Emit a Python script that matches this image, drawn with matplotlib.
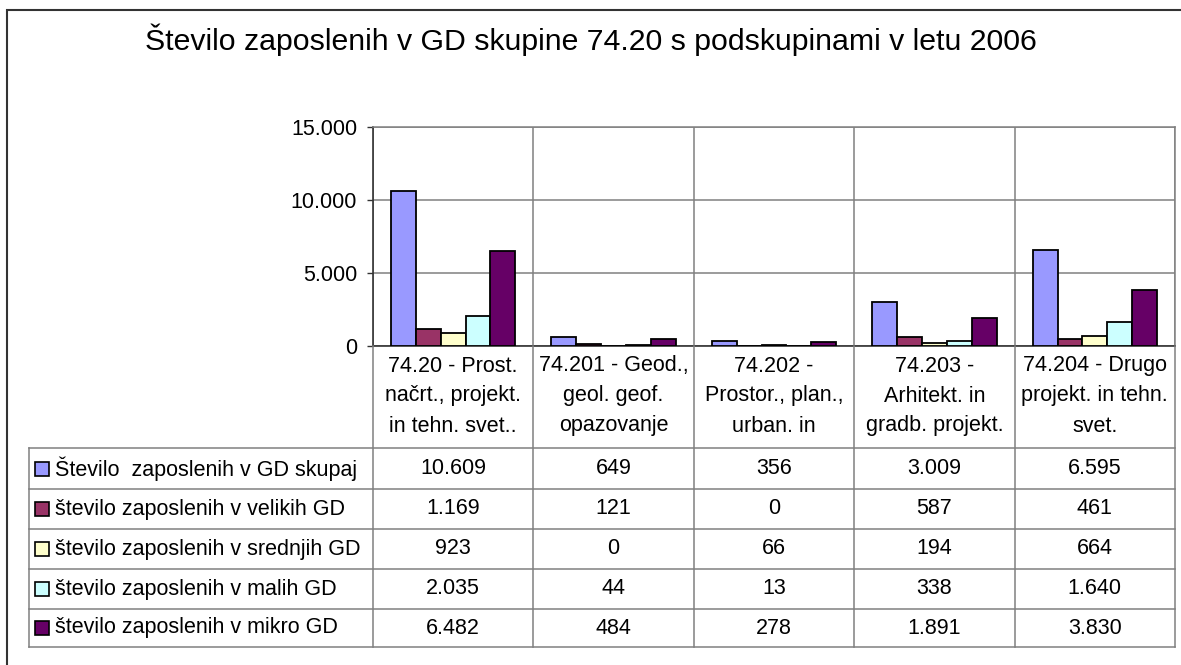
import numpy as np
import matplotlib
matplotlib.use('Agg')
import matplotlib.pyplot as plt
from matplotlib.lines import Line2D
from matplotlib.patches import Rectangle

plt.rcParams['font.family'] = ['Liberation Sans', 'DejaVu Sans']

# ---- podatki ----
naslov = "Število zaposlenih v GD skupine 74.20 s podskupinami v letu 2006"
kategorije = [
    "74.20 - Prost.\nnačrt., projekt.\nin tehn. svet..",
    "74.201 - Geod.,\ngeol. geof.\nopazovanje",
    "74.202 -\nProstor., plan.,\nurban. in",
    "74.203 -\nArhitekt. in\ngradb. projekt.",
    "74.204 - Drugo\nprojekt. in tehn.\nsvet.",
]
serije = [
    "Število  zaposlenih v GD skupaj",
    "število zaposlenih v velikih GD",
    "število zaposlenih v srednjih GD",
    "število zaposlenih v malih GD",
    "število zaposlenih v mikro GD",
]
skupaj = [10609, 649, 356, 3009, 6595]
velika = [1169, 121, 0, 587, 461]
srednja = [923, 0, 66, 194, 664]
mala = [2035, 44, 13, 338, 1640]
mikro = [6482, 484, 278, 1891, 3830]
vrednosti = [skupaj, velika, srednja, mala, mikro]
barve = ['#9999FF', '#993366', '#FFFFCC', '#CCFFFF', '#660066']
y_ticks = [0, 5000, 10000, 15000]


def fmt(v):
    return f"{v:,}".replace(',', '.')


# ---- postavitev v pikslih ----
W, H = 1181, 665
fig = plt.figure(figsize=(W / 100, H / 100), dpi=100)
FS = 15.5


def fx(px):
    return px / W


def fy(py):
    return 1 - py / H


ax_l, ax_r, ax_t, ax_b = 373, 1175, 127, 346
ax = fig.add_axes([fx(ax_l), fy(ax_b), fx(ax_r - ax_l), (ax_b - ax_t) / H])

n = len(kategorije)
x = np.arange(n)
sirina = 0.155
for i, (vals, c) in enumerate(zip(vrednosti, barve)):
    ax.bar(x + (i - 2) * sirina, vals, width=sirina, color=c,
           edgecolor='black', linewidth=1.3, zorder=3)

ax.set_xlim(-0.5, n - 0.5)
ax.set_ylim(0, 15000)
ax.set_yticks(y_ticks)
ax.set_yticklabels([fmt(v) for v in y_ticks])
ax.set_xticks(np.arange(-0.5, n, 1))
ax.set_xticklabels([])
ax.tick_params(axis='x', length=0)
ax.tick_params(axis='y', direction='out', length=4.5, width=1, pad=7,
               labelsize=FS, color='#333333')
ax.grid(True, color='#808080', linewidth=1.1, zorder=0)
for s in ['top', 'right']:
    ax.spines[s].set_color('#808080')
    ax.spines[s].set_linewidth(1.1)
for s in ['left', 'bottom']:
    ax.spines[s].set_color('#333333')
    ax.spines[s].set_linewidth(1.2)

# ---- naslov ----
fig.text(0.5, fy(50), naslov, ha='center', va='baseline', fontsize=21.8)

# ---- tabela s podatki ----
col_w = (ax_r - ax_l) / n
col_x = [ax_l + k * col_w for k in range(n + 1)]
tab_l = 29
vrstice = [448, 489, 529, 569, 609, 647]
lc = '#808080'


def hline(x0, x1, y):
    fig.add_artist(Line2D([fx(x0), fx(x1)], [fy(y), fy(y)], color=lc,
                          linewidth=1.1, transform=fig.transFigure))


def vline(xp, y0, y1):
    fig.add_artist(Line2D([fx(xp), fx(xp)], [fy(y0), fy(y1)], color=lc,
                          linewidth=1.1, transform=fig.transFigure))


for y in vrstice:
    hline(tab_l, ax_r, y)
vline(tab_l, vrstice[0], vrstice[-1])
for xp in col_x:
    vline(xp, ax_b, vrstice[-1])

# glave stolpcev
for k, lab in enumerate(kategorije):
    cx = (col_x[k] + col_x[k + 1]) / 2
    for j, line in enumerate(lab.split('\n')):
        fig.text(fx(cx), fy(366 + j * 30), line, ha='center', va='center',
                 fontsize=FS)

# vrstice s serijami
for r, (ime, vals, c) in enumerate(zip(serije, vrednosti, barve)):
    cy = (vrstice[r] + vrstice[r + 1]) / 2
    fig.add_artist(Rectangle((fx(35), fy(cy + 7)), 14 / W, 14 / H,
                             facecolor=c, edgecolor='black', linewidth=1.2,
                             transform=fig.transFigure))
    fig.text(fx(55), fy(cy), ime, ha='left', va='center', fontsize=FS)
    for k, v in enumerate(vals):
        cx = (col_x[k] + col_x[k + 1]) / 2
        fig.text(fx(cx), fy(cy), fmt(v), ha='center', va='center',
                 fontsize=FS)

# zunanji okvir
fig.add_artist(Rectangle((fx(7), fy(700)), (1250 - 7) / W, (700 - 10) / H,
                         fill=False, edgecolor='#333333', linewidth=1.5,
                         transform=fig.transFigure))

fig.savefig('out.png', dpi=100)
